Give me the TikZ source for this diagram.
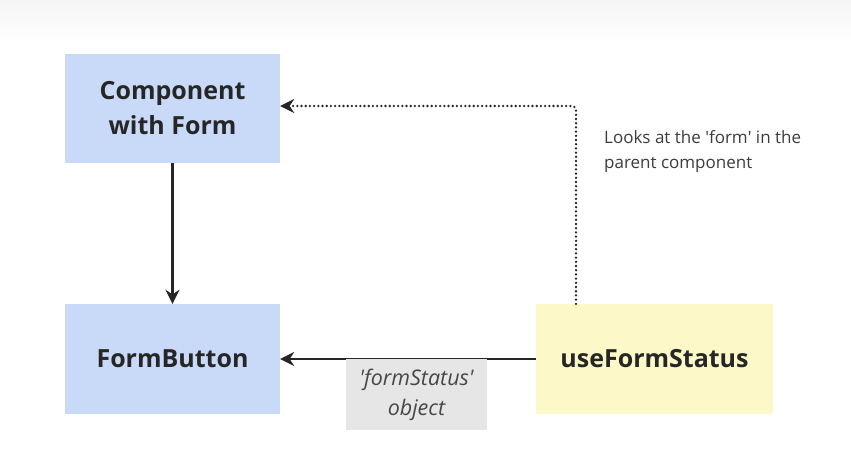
\documentclass[tikz,border=0pt]{standalone}
\usepackage{fontspec}
\setmainfont{Open Sans}
\usetikzlibrary{arrows.meta,shadings}
\definecolor{boxblue}{HTML}{C9DAF8}
\definecolor{boxyellow}{HTML}{FCF8C8}
\definecolor{labelgray}{HTML}{E6E6E6}
\definecolor{ink}{HTML}{262626}
\definecolor{topgray}{HTML}{F4F4F4}
\tikzset{
  blockbox/.style={fill=#1, draw=none, inner sep=0pt, font=\bfseries\fontsize{25}{35}\selectfont, text=ink, align=center},
  conn/.style={draw=ink, line width=2.2pt, -{Stealth[length=14pt,width=14pt]}},
  dotconn/.style={draw=ink, line width=2.6pt, dash pattern=on 0pt off 4.2pt, line cap=round, rounded corners=4pt, -{Stealth[length=14pt,width=14pt]}},
  edgelabel/.style={fill=labelgray, inner sep=0pt, font=\itshape\fontsize{21.5}{30}\selectfont, text=ink!85, align=center},
  note/.style={font=\fontsize{17}{25}\selectfont, text=ink!90, align=left, anchor=north west, inner sep=0pt}
}
\begin{document}
\begin{tikzpicture}[x=1pt,y=-1pt]
\useasboundingbox (0,0) rectangle (851,448);
\fill[white] (0,0) rectangle (851,448);
\shade[top color=topgray, bottom color=white] (0,0) rectangle (851,42);
\node[blockbox=boxblue, minimum width=215pt, minimum height=109pt] (comp) at (172.5,108.5) {Component\\with Form};
\node[blockbox=boxblue, minimum width=215pt, minimum height=110pt] (btn) at (172.5,359) {FormButton};
\node[blockbox=boxyellow, minimum width=237pt, minimum height=110pt] (hook) at (654.5,359) {useFormStatus};
\coordinate (corner) at (576,106);
\draw[conn] (comp.south) -- (btn.north);
\draw[conn] (hook.west) -- (btn.east);
\draw[dotconn] (hook.north -| corner) -- (corner) -- (comp.east |- corner);
\node[edgelabel, minimum width=141pt, minimum height=71pt] (lbl) at (416.5,394.5) {\textquotesingle formStatus\textquotesingle\\object};
\node[note] (txt) at (604,130) {Looks at the \textquotesingle form\textquotesingle{} in the\\parent component};
\end{tikzpicture}
\end{document}
